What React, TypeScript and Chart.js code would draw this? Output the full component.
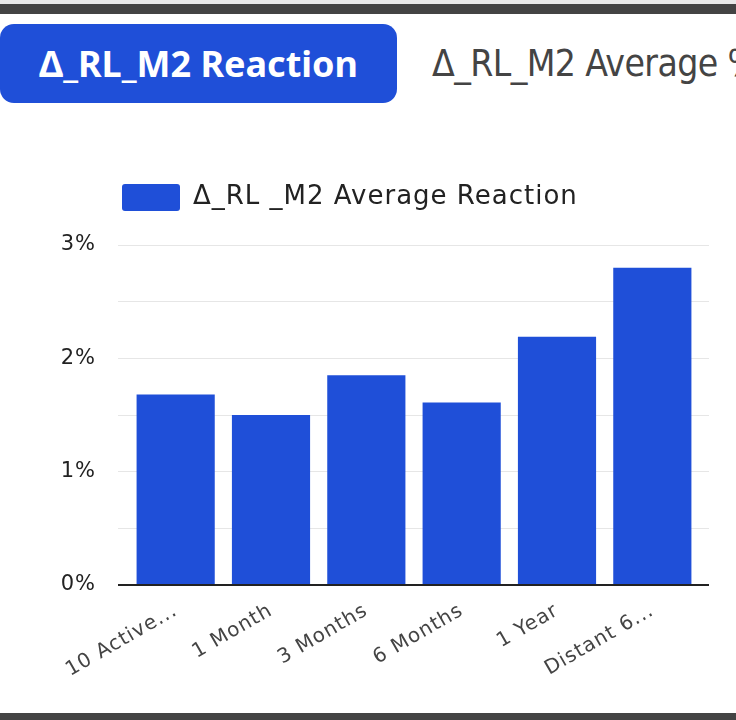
import React, { useEffect, useRef } from "react";
import { Chart, registerables } from "chart.js";

Chart.register(...registerables);

const categories: string[] = ["10 Active...", "1 Month", "3 Months", "6 Months", "1 Year", "Distant 6..."];
const averageReaction: number[] = [1.68, 1.5, 1.85, 1.61, 2.19, 2.8];
const seriesLabel = "Δ_RL _M2 Average Reaction";
const tabActive = "Δ_RL_M2 Reaction";
const tabInactive = "Δ_RL_M2 Average %";
const yMin = 0;
const yMax = 3;
const yStep = 0.5;

const BLUE = "#1f4fd8";
const CHART_FONT = "'DejaVu Sans', sans-serif";

export default function App() {
  const canvasRef = useRef<HTMLCanvasElement | null>(null);

  useEffect(() => {
    document.body.style.margin = "0";
    const canvas = canvasRef.current;
    if (!canvas) return;

    const setSpacing = (chart: any) => {
      try {
        chart.ctx.letterSpacing = "1px";
      } catch (e) {
        /* ignore */
      }
    };

    const layoutPlugin = {
      id: "layoutTweaks",
      beforeInit(chart: any) {
        const legend = chart.legend;
        if (!legend) return;
        const orig = legend.fit;
        legend.fit = function fit() {
          orig.bind(legend)();
          legend.height = 71;
        };
      },
      beforeLayout(chart: any) {
        setSpacing(chart);
      },
      afterLayout(chart: any) {
        if (chart.legend) chart.legend.left = 112;
      },
      beforeDraw(chart: any) {
        setSpacing(chart);
      },
    };

    const chart = new Chart(canvas, {
      type: "bar",
      data: {
        labels: categories,
        datasets: [
          {
            label: seriesLabel,
            data: averageReaction,
            backgroundColor: BLUE,
            borderWidth: 0,
            categoryPercentage: 1,
            barPercentage: 0.82,
          },
        ],
      },
      plugins: [layoutPlugin],
      options: {
        animation: false,
        responsive: false,
        maintainAspectRatio: false,
        layout: { padding: { top: 44, left: 0, right: 27, bottom: 0 } },
        plugins: {
          tooltip: { enabled: false },
          legend: {
            position: "top",
            align: "start",
            labels: {
              boxWidth: 58,
              boxHeight: 27,
              padding: 10,
              color: "#222",
              font: { family: CHART_FONT, size: 26 },
              useBorderRadius: true,
              borderRadius: 3,
            },
          },
        },
        scales: {
          x: {
            grid: { display: false },
            border: { display: true, color: "#222", width: 2 },
            ticks: {
              color: "#444",
              font: { family: CHART_FONT, size: 20 },
              minRotation: 30,
              maxRotation: 30,
              padding: 6,
              autoSkip: false,
            },
            afterFit(scale: any) {
              scale.height = 128;
            },
          },
          y: {
            min: yMin,
            max: yMax,
            border: { display: false },
            grid: {
              color: (ctx: any) => (ctx.tick && ctx.tick.value === 0 ? "#222" : "#e6e6e6"),
              lineWidth: (ctx: any) => (ctx.tick && ctx.tick.value === 0 ? 2 : 1),
              tickLength: 10,
              drawTicks: true,
            },
            ticks: {
              stepSize: yStep,
              color: "#222",
              padding: 22,
              font: { family: CHART_FONT, size: 21 },
              callback: (v: any) => (Number.isInteger(Number(v)) ? `${v}%` : ""),
            },
            afterFit(scale: any) {
              scale.width = 128;
            },
          },
          y2: {
            position: "right",
            min: yMin,
            max: yMax,
            border: { display: false },
            grid: {
              drawOnChartArea: false,
              drawTicks: true,
              tickLength: 9,
              color: (ctx: any) => (ctx.tick && ctx.tick.value === 0 ? "#222" : "#e6e6e6"),
              lineWidth: (ctx: any) => (ctx.tick && ctx.tick.value === 0 ? 2 : 1),
            },
            ticks: { stepSize: yStep, display: false },
            afterFit(scale: any) {
              scale.width = 9;
            },
          },
        },
      },
    } as any);

    return () => chart.destroy();
  }, []);

  return (
    <div
      style={{
        position: "fixed",
        left: 0,
        top: 0,
        width: 736,
        height: 720,
        background: "#fff",
        overflow: "hidden",
      }}
    >
      <div style={{ position: "absolute", left: 0, top: 0, width: 736, height: 4, background: "#e9e9e9" }} />
      <div style={{ position: "absolute", left: 0, top: 4, width: 736, height: 10, background: "#444" }} />
      <div
        style={{
          position: "absolute",
          left: 0,
          top: 24,
          width: 397,
          height: 79,
          borderRadius: 14,
          background: BLUE,
          color: "#fff",
          fontFamily: "'Noto Sans', sans-serif",
          fontWeight: 700,
          fontSize: 36,
          display: "flex",
          alignItems: "center",
          justifyContent: "center",
          whiteSpace: "nowrap",
        }}
      >
        {tabActive}
      </div>
      <div
        style={{
          position: "absolute",
          left: 432,
          top: 24,
          height: 79,
          display: "flex",
          alignItems: "center",
          color: "#444",
          fontFamily: "'Liberation Sans Narrow', 'DejaVu Sans Condensed', sans-serif",
          fontSize: 37,
          letterSpacing: "-0.6px",
          whiteSpace: "nowrap",
        }}
      >
        {tabInactive}
      </div>
      <canvas
        ref={canvasRef}
        width={736}
        height={583}
        style={{ position: "absolute", left: 0, top: 130, width: 736, height: 583 }}
      />
      <div style={{ position: "absolute", left: 0, top: 713, width: 736, height: 7, background: "#444" }} />
    </div>
  );
}
